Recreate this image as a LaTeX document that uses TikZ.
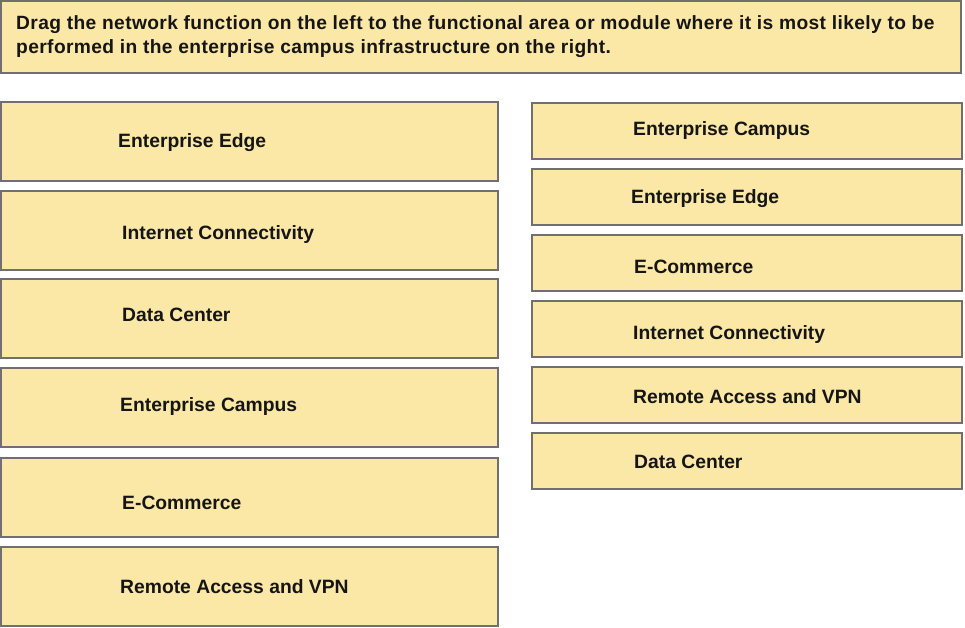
\documentclass[tikz,border=0pt]{standalone}
\usepackage{fontspec}
\setmainfont{Liberation Sans}
\newfontfamily\titlefont[LetterSpace=2]{Liberation Sans}
\definecolor{boxfill}{HTML}{FCE8A6}
\definecolor{boxline}{HTML}{707070}
\definecolor{ink}{HTML}{151515}
\begin{document}
\begin{tikzpicture}[x=1pt,y=-1pt,
  panel/.style={draw=boxline, line width=2pt, fill=boxfill, anchor=north west, inner sep=0pt, outer sep=0pt},
  leftbox/.style={panel, minimum width=497pt, minimum height=79pt},
  rightbox/.style={panel, minimum width=430pt, minimum height=56pt},
  label/.style={anchor=base west, inner sep=0pt, text=ink, font=\bfseries\fontsize{19.3}{23}\selectfont},
  titletext/.style={anchor=base west, inner sep=0pt, text=ink, font=\titlefont\bfseries\fontsize{19.2}{23}\selectfont}]
\useasboundingbox (0,0) rectangle (965,627);
\fill[white] (0,0) rectangle (965,627);
% title
\node[panel, minimum width=960pt, minimum height=72pt] (title) at (1,1) {};
\node[titletext] (t1) at (16,29) {Drag the network function on the left to the functional area or module where it is most likely to be};
\node[titletext] (t2) at (16,53) {performed in the enterprise campus infrastructure on the right.};
% left column
\node[leftbox] (l1) at (1,102) {};
\node[leftbox] (l2) at (1,191) {};
\node[leftbox] (l3) at (1,279) {};
\node[leftbox] (l4) at (1,368) {};
\node[leftbox] (l5) at (1,458) {};
\node[leftbox] (l6) at (1,547) {};
\node[label] (lt1) at (118,147) {Enterprise Edge};
\node[label] (lt2) at (122,239) {Internet Connectivity};
\node[label] (lt3) at (122,321) {Data Center};
\node[label] (lt4) at (120,411) {Enterprise Campus};
\node[label] (lt5) at (122,509) {E-Commerce};
\node[label] (lt6) at (120,593) {Remote Access and VPN};
% right column
\node[rightbox] (r1) at (532,103) {};
\node[rightbox] (r2) at (532,169) {};
\node[rightbox] (r3) at (532,235) {};
\node[rightbox] (r4) at (532,301) {};
\node[rightbox] (r5) at (532,367) {};
\node[rightbox] (r6) at (532,433) {};
\node[label] (rt1) at (633,135) {Enterprise Campus};
\node[label] (rt2) at (631,203) {Enterprise Edge};
\node[label] (rt3) at (634,273) {E-Commerce};
\node[label] (rt4) at (633,339) {Internet Connectivity};
\node[label] (rt5) at (633,403) {Remote Access and VPN};
\node[label] (rt6) at (634,468) {Data Center};
\end{tikzpicture}
\end{document}
